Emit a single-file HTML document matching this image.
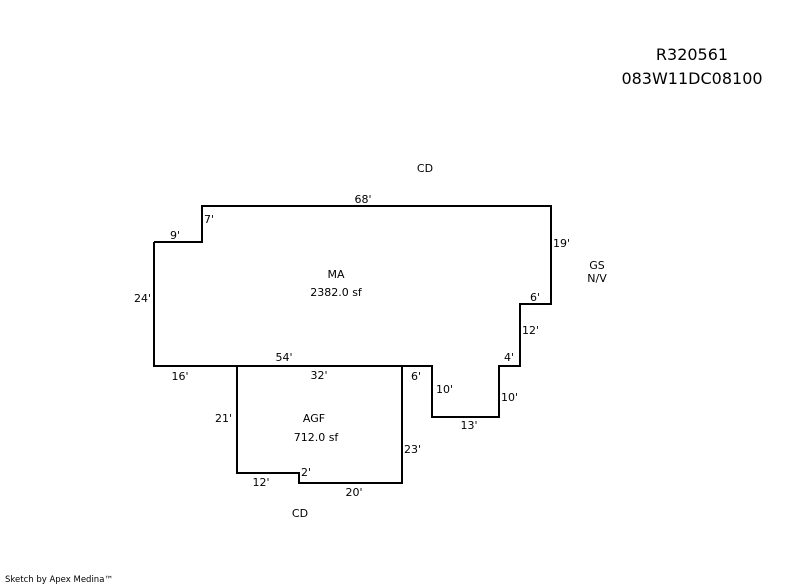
<!DOCTYPE html>
<html><head><meta charset="utf-8"><style>
html,body{margin:0;padding:0;background:#fff;width:800px;height:587px;overflow:hidden}
svg{display:block}
text{font-family:"DejaVu Sans","Liberation Sans",sans-serif;font-size:11px;fill:#000}
</style></head><body>
<svg width="800" height="587" viewBox="0 0 800 587">
<g fill="none" stroke="#000" stroke-width="2">
<polyline points="154,242 202,242 202,206 551,206 551,304 520,304 520,366 499,366 499,417 432,417 432,366 154,366 154,242"/>
<polyline points="237,366 237,473 299,473 299,483 402,483 402,366"/>
</g>
<text x="692" y="60" text-anchor="middle" style="font-size:16px">R320561</text>
<text x="692" y="84" text-anchor="middle" style="font-size:16px">083W11DC08100</text>
<text x="425" y="172" text-anchor="middle">CD</text>
<text x="363" y="203" text-anchor="middle">68'</text>
<text x="204" y="223">7'</text>
<text x="175" y="239" text-anchor="middle">9'</text>
<text x="553" y="247">19'</text>
<text x="597" y="269" text-anchor="middle">GS</text>
<text x="597" y="282" text-anchor="middle">N/V</text>
<text x="336" y="278" text-anchor="middle">MA</text>
<text x="336" y="296" text-anchor="middle">2382.0 sf</text>
<text x="134" y="302">24'</text>
<text x="535" y="301" text-anchor="middle">6'</text>
<text x="522" y="334">12'</text>
<text x="509" y="361" text-anchor="middle">4'</text>
<text x="284" y="361" text-anchor="middle">54'</text>
<text x="180" y="380" text-anchor="middle">16'</text>
<text x="319" y="379" text-anchor="middle">32'</text>
<text x="416" y="380" text-anchor="middle">6'</text>
<text x="436" y="393">10'</text>
<text x="501" y="401">10'</text>
<text x="469" y="429" text-anchor="middle">13'</text>
<text x="215" y="422">21'</text>
<text x="314" y="422" text-anchor="middle">AGF</text>
<text x="316" y="441" text-anchor="middle">712.0 sf</text>
<text x="404" y="453">23'</text>
<text x="301" y="476">2'</text>
<text x="261" y="486" text-anchor="middle">12'</text>
<text x="354" y="496" text-anchor="middle">20'</text>
<text x="300" y="517" text-anchor="middle">CD</text>
<text x="5" y="582" style="font-size:8.5px">Sketch by Apex Medina™</text>
</svg>
</body></html>
